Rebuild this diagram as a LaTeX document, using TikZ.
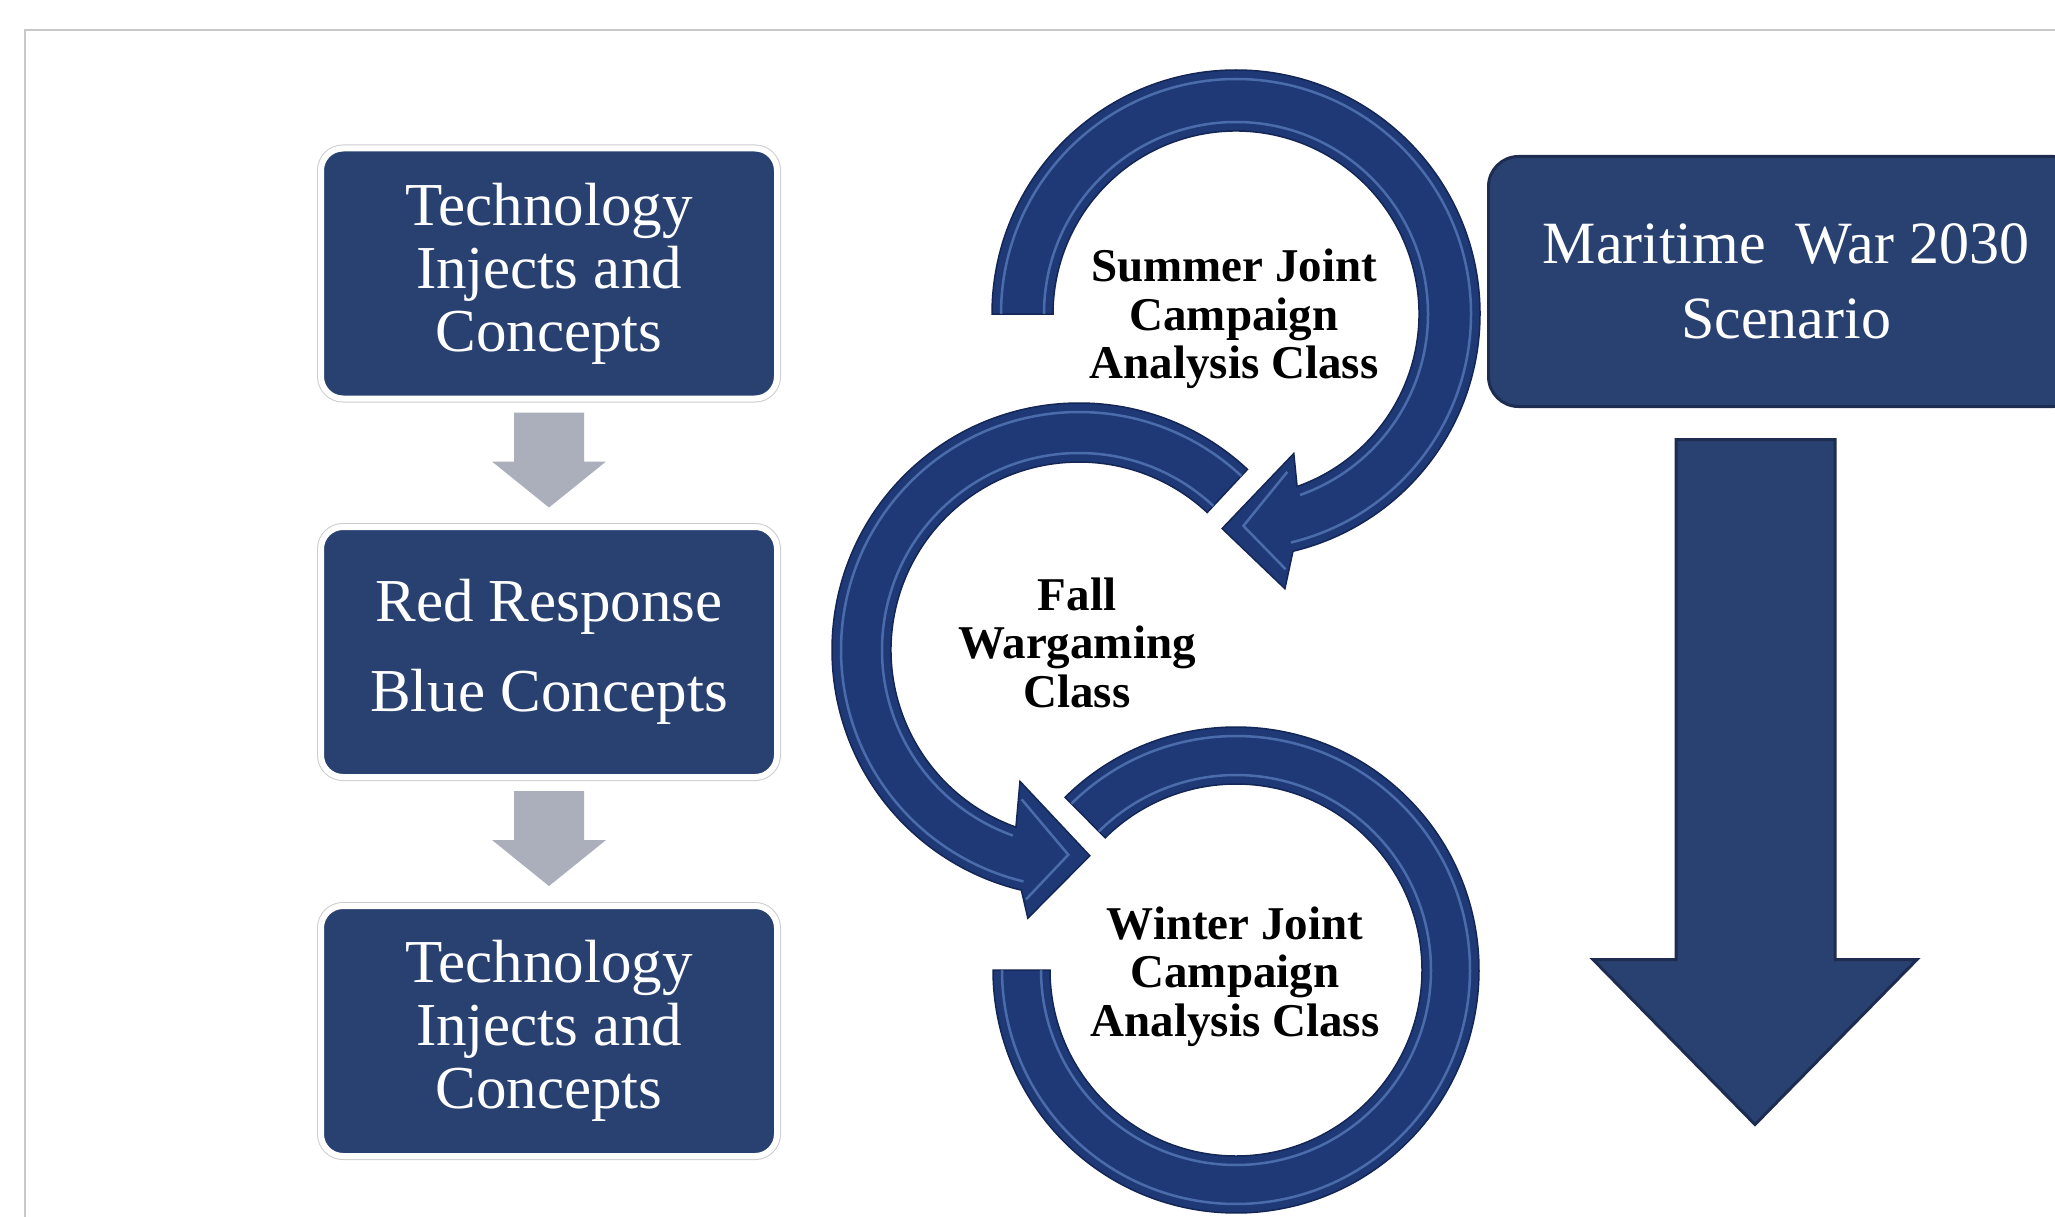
\documentclass[tikz,border=0pt]{standalone}
\usepackage{fontspec}
\setmainfont{Liberation Serif}
\usetikzlibrary{calc}

\definecolor{boxblue}{RGB}{41,65,113}
\definecolor{boxline}{RGB}{29,44,80}
\definecolor{ringblue}{RGB}{31,57,118}
\definecolor{ringdark}{RGB}{20,38,86}
\definecolor{ringlight}{RGB}{120,160,222}
\definecolor{arrowgray}{RGB}{170,175,187}
\definecolor{framegray}{RGB}{200,200,200}

\begin{document}
\begin{tikzpicture}[x=1pt,y=1pt,
    leftbox/.style={rectangle,rounded corners=22pt,fill=boxblue,draw=white,line width=6pt,
        preaction={draw=black!20,line width=8pt},
        minimum width=456pt,minimum height=250pt,inner sep=0pt,outer sep=0pt,
        text=white,align=center,font=\fontsize{61pt}{63pt}\selectfont},
    scenbox/.style={rectangle,rounded corners=30pt,fill=boxblue,draw=boxline,line width=3pt,
        minimum width=595pt,minimum height=250pt,inner sep=0pt,outer sep=0pt,
        text=white,align=center,font=\fontsize{60pt}{75pt}\selectfont},
    classtext/.style={align=center,inner sep=0pt,font=\bfseries\fontsize{47pt}{48.5pt}\selectfont},
    ring/.style={fill=ringblue,draw=ringdark,line width=1.5pt},
    shine/.style={draw=ringlight,line width=2.5pt,opacity=0.5},
    grayarrow/.style={fill=arrowgray},
    bigarrow/.style={fill=boxblue,draw=boxline,line width=3pt}]
        \useasboundingbox (0,0) rectangle (2055,-1217);
        \clip (0,0) rectangle (2055,-1217);
        \fill[white] (0,0) rectangle (2055,-1217);
        \draw[framegray,line width=2pt] (2060,-30) -- (25,-30) -- (25,-1222);

        % left column
        \node[leftbox] (tech1) at (549,-273.5) {Technology\\Injects and\\Concepts};
        \node[leftbox,font=\fontsize{61pt}{90pt}\selectfont] (redblue) at (549,-652) {Red Response\\Blue Concepts};
        \node[leftbox] (tech2) at (549,-1031) {Technology\\Injects and\\Concepts};
        \coordinate (g1) at ($(tech1.south)+(0,-14)$);
        \coordinate (g2) at ($(redblue.south)+(0,-14)$);
        \foreach \g in {g1,g2}
            \fill[grayarrow] ($(\g)+(-35,0)$) -- ($(\g)+(35,0)$) -- ($(\g)+(35,-49)$) -- ($(\g)+(57,-49)$)
                -- ($(\g)+(0,-95)$) -- ($(\g)+(-57,-49)$) -- ($(\g)+(-35,-49)$) -- cycle;

        % scenario
        \node[scenbox] (scen) at (1786,-281.5) {Maritime~ War 2030\\Scenario};
        \draw[bigarrow] ($(scen.south)+(-110,-33)$) -- ++(159,0) -- ++(0,-520) -- ++(82,0)
            -- ++(-162,-165) -- ++(-162,165) -- ++(83,0) -- cycle;

        % circular arrows
        \coordinate (c1) at (1236,-314);
        \coordinate (c2) at (1079,-650);
        \coordinate (c3) at (1236,-970);
        \draw[ring] ($(c1)+(180:244)$) arc[start angle=180,end angle=-76.5,radius=244pt]
            -- ($(c1)+(-79.9:279)$) -- ($(c1)+(-93.7:215)$) -- ($(c1)+(-67.5:151)$)
            -- ($(c1)+(-70.5:183)$) arc[start angle=-70.5,end angle=180,radius=183pt] -- cycle;
        \draw[shine] ($(c1)+(180:192)$) arc[start angle=180,end angle=-70.5,radius=192pt];
        \draw[shine] ($(c1)+(180:235)$) arc[start angle=180,end angle=-76.5,radius=235pt];
        \draw[shine] ($(c1)+(-72:166)$) -- ($(c1)+(-88:212)$) -- ($(c1)+(-79:260)$);
        \draw[ring] ($(c2)+(47:247)$) arc[start angle=47,end angle=256.5,radius=247pt]
            -- ($(c2)+(259.2:273)$) -- ($(c2)+(273:206)$) -- ($(c2)+(245.8:144)$)
            -- ($(c2)+(250.4:188)$) arc[start angle=250.4,end angle=47,radius=188pt] -- cycle;
        \draw[shine] ($(c2)+(47:197)$) arc[start angle=47,end angle=250.4,radius=197pt];
        \draw[shine] ($(c2)+(47:238)$) arc[start angle=47,end angle=256.5,radius=238pt];
        \draw[shine] ($(c2)+(249:160)$) -- ($(c2)+(267:205)$) -- ($(c2)+(258:255)$);
        \draw[ring] ($(c3)+(134.7:243)$) arc[start angle=134.7,end angle=-180,radius=243pt]
            -- ($(c3)+(-180:186)$) arc[start angle=-180,end angle=134.7,radius=186pt] -- cycle;
        \draw[shine] ($(c3)+(134.7:195)$) arc[start angle=134.7,end angle=-180,radius=195pt];
        \draw[shine] ($(c3)+(134.7:234)$) arc[start angle=134.7,end angle=-180,radius=234pt];

        \node[classtext] (summer) at (1234,-319) {Summer Joint\\Campaign\\Analysis Class};
        \node[classtext] (fall) at (1077,-642.5) {Fall\\Wargaming\\Class};
        \node[classtext] (winter) at (1235,-976.5) {Winter Joint\\Campaign\\Analysis Class};
\end{tikzpicture}
\end{document}
